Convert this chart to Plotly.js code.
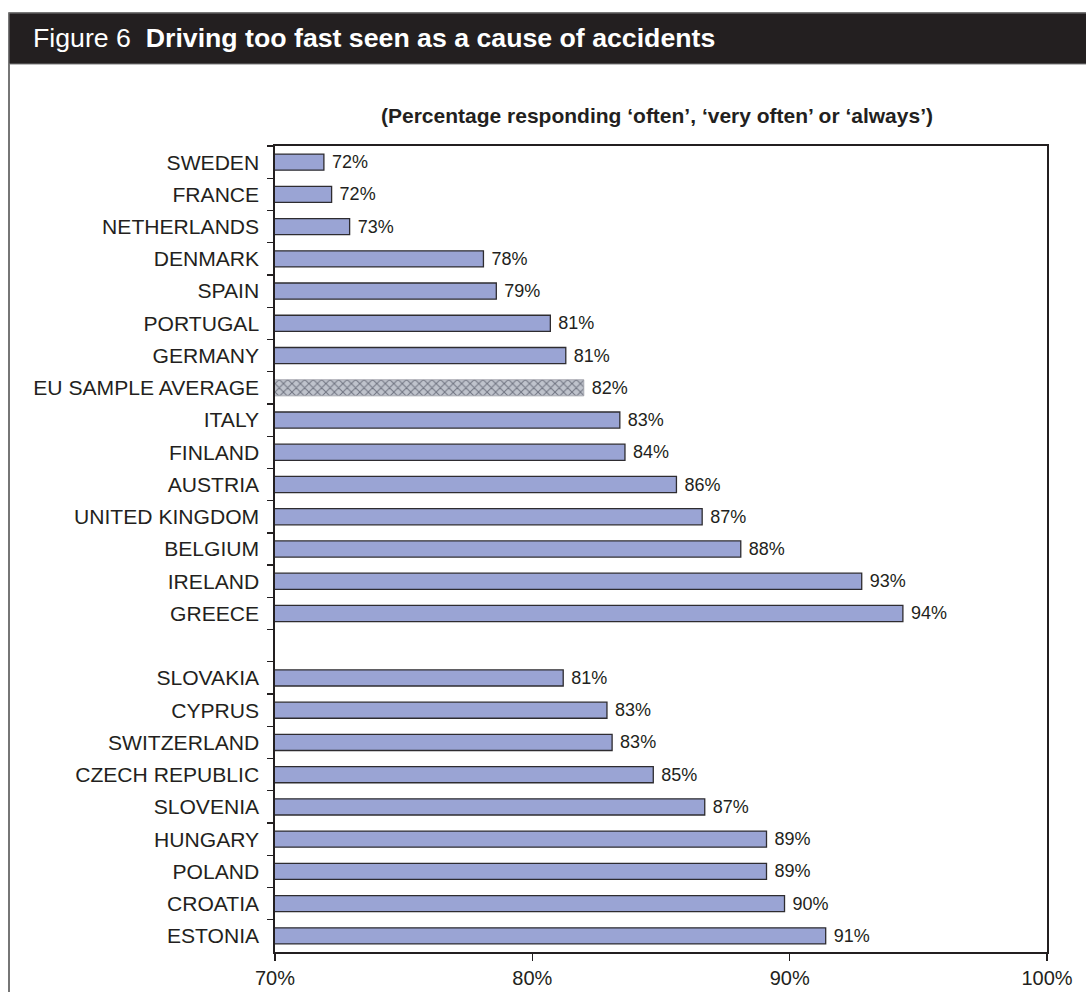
<!DOCTYPE html>
<html>
<head>
<meta charset="utf-8">
<script src="https://cdn.plot.ly/plotly-3.0.1.min.js"></script>
<style>
  html, body { margin: 0; padding: 0; background: #fff; }
  #chart { width: 1086px; height: 992px; }
</style>
</head>
<body>
<div id="chart"></div>
<script>
// ---- data ----
const westCountries = ["SWEDEN", "FRANCE", "NETHERLANDS", "DENMARK", "SPAIN", "PORTUGAL", "GERMANY",
  "EU SAMPLE AVERAGE", "ITALY", "FINLAND", "AUSTRIA", "UNITED KINGDOM", "BELGIUM", "IRELAND", "GREECE"];
const westValues = [71.9, 72.2, 72.9, 78.1, 78.6, 80.7, 81.3, 82.0, 83.4, 83.6, 85.6, 86.6, 88.1, 92.8, 94.4];
const eastCountries = ["SLOVAKIA", "CYPRUS", "SWITZERLAND", "CZECH REPUBLIC", "SLOVENIA", "HUNGARY",
  "POLAND", "CROATIA", "ESTONIA"];
const eastValues = [81.2, 82.9, 83.1, 84.7, 86.7, 89.1, 89.1, 89.8, 91.4];
const averageLabel = "EU SAMPLE AVERAGE";
const gapLabel = " ";
const xTickValues = [70, 80, 90, 100];
const xTickLabels = ["70%", "80%", "90%", "100%"];
const headerPrefix = "Figure 6";
const headerTitle = "Driving too fast seen as a cause of accidents";
const subTitle = "(Percentage responding \u2018often\u2019, \u2018very often\u2019 or \u2018always\u2019)";

// ---- build ----
const categories = westCountries.concat([gapLabel], eastCountries);
const allValues = westValues.concat([null], eastValues);
const mainValues = categories.map((c, i) => c === averageLabel ? null : allValues[i]);
const avgValues = categories.map((c, i) => c === averageLabel ? allValues[i] : null);

const W = 1086, H = 992;
const M = { l: 275, r: 39, t: 146, b: 40 };
const PW = W - M.l - M.r, PH = H - M.t - M.b;
const X = px => (px - M.l) / PW;
const Y = py => (H - M.b - py) / PH;

const FONT = "Liberation Sans, Arial, Helvetica, sans-serif";
const INK = "#231f20";

const common = {
  type: "bar",
  orientation: "h",
  y: categories,
  cliponaxis: false,
  textposition: "outside",
  constraintext: "none",
  texttemplate: "\u00a0%{x:.0f}%",
  textfont: { family: FONT, size: 18, color: INK },
  outsidetextfont: { family: FONT, size: 18, color: INK },
  hoverinfo: "y+x",
  showlegend: false
};

const traces = [
  Object.assign({}, common, {
    x: mainValues,
    marker: { color: "#9aa4d4", line: { color: "#2e2c30", width: 1.3 } }
  }),
  Object.assign({}, common, {
    x: avgValues,
    marker: {
      color: "#b4b8c2",
      line: { color: "#9a9ca4", width: 0.8 },
      pattern: { shape: "x", bgcolor: "#bfc3cc", fgcolor: "#6f7380", size: 6, solidity: 0.3 }
    }
  })
];

const layout = {
  width: W, height: H,
  margin: M,
  paper_bgcolor: "#ffffff",
  plot_bgcolor: "#ffffff",
  barmode: "overlay",
  bargap: 0.5,
  font: { family: FONT, color: INK },
  xaxis: {
    range: [70, 100],
    tickvals: xTickValues,
    ticktext: xTickLabels,
    ticks: "outside", ticklen: 7, tickwidth: 1.3, tickcolor: INK,
    tickfont: { family: FONT, size: 20, color: INK },
    showgrid: false, zeroline: false,
    showline: true, linecolor: INK, linewidth: 1.6, mirror: true,
    fixedrange: true
  },
  yaxis: {
    type: "category",
    categoryorder: "array",
    categoryarray: categories,
    range: [categories.length - 0.5, -0.5],
    tickson: "boundaries",
    ticks: "outside", ticklen: 6, tickwidth: 1.3, tickcolor: INK,
    ticklabelstandoff: 10,
    tickfont: { family: FONT, size: 21.1, color: INK },
    showgrid: false, zeroline: false,
    showline: true, linecolor: INK, linewidth: 1.6, mirror: true,
    fixedrange: true
  },
  shapes: [
    { type: "rect", xref: "paper", yref: "paper", layer: "below",
      x0: X(9), x1: X(1095), y0: Y(1010), y1: Y(13),
      line: { color: "#4a4a4a", width: 1.5 }, fillcolor: "rgba(0,0,0,0)" },
    { type: "rect", xref: "paper", yref: "paper", layer: "above",
      x0: X(9), x1: X(1095), y0: Y(64), y1: Y(13),
      line: { color: "#7a7a7a", width: 1 }, fillcolor: "#231f20" }
  ],
  annotations: [
    { xref: "paper", yref: "paper", x: X(31), y: Y(37.5), xanchor: "left", yanchor: "middle",
      showarrow: false,
      text: headerPrefix + "\u00a0\u00a0<b>" + headerTitle + "</b>",
      font: { family: FONT, size: 26.7, color: "#ffffff" } },
    { xref: "paper", yref: "paper", x: X(657), y: Y(116), xanchor: "center", yanchor: "middle",
      showarrow: false,
      text: "<b>" + subTitle + "</b>",
      font: { family: FONT, size: 21, color: INK } }
  ]
};

Plotly.newPlot("chart", traces, layout, { displayModeBar: false, staticPlot: true });
</script>
</body>
</html>
